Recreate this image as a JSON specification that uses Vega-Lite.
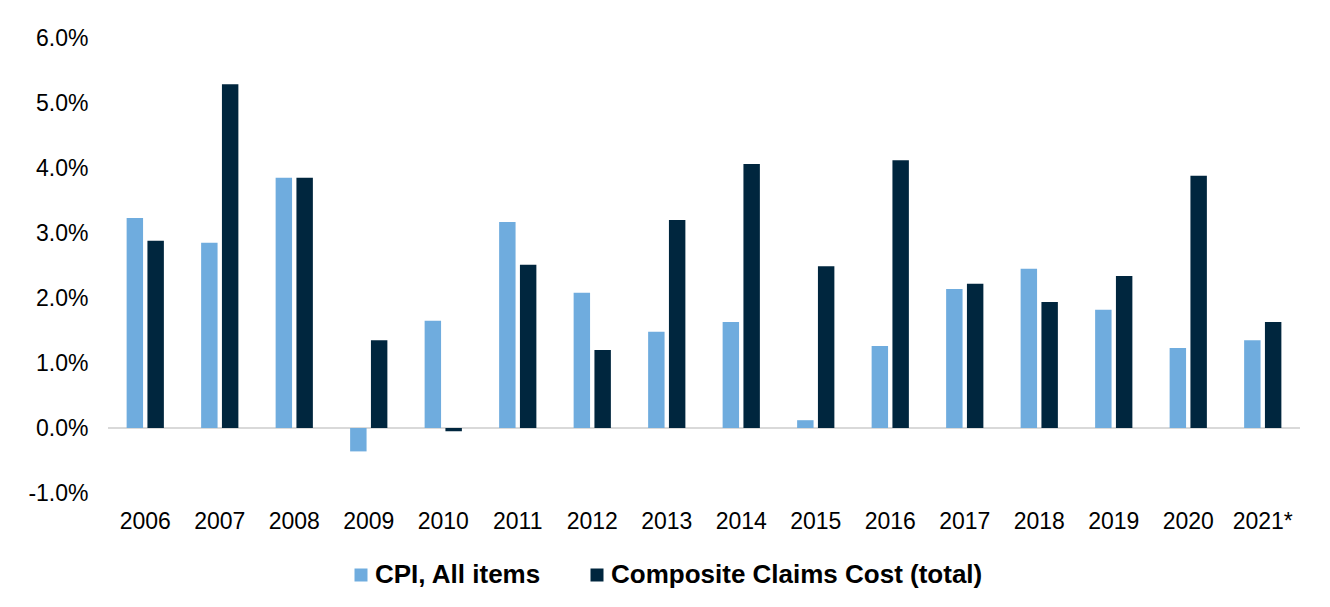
{
  "$schema": "https://vega.github.io/schema/vega-lite/v6.json",
  "autosize": "none",
  "width": 1192,
  "height": 455,
  "padding": {"left": 108, "top": 38, "right": 30, "bottom": 114},
  "background": "white",
  "config": {"view": {"stroke": null}, "font": "Liberation Sans"},
  "data": {"values": [
    {"year": "2006", "series": "CPI, All items", "v": 3.23},
    {"year": "2006", "series": "Composite Claims Cost (total)", "v": 2.88},
    {"year": "2007", "series": "CPI, All items", "v": 2.85},
    {"year": "2007", "series": "Composite Claims Cost (total)", "v": 5.29},
    {"year": "2008", "series": "CPI, All items", "v": 3.85},
    {"year": "2008", "series": "Composite Claims Cost (total)", "v": 3.85},
    {"year": "2009", "series": "CPI, All items", "v": -0.36},
    {"year": "2009", "series": "Composite Claims Cost (total)", "v": 1.35},
    {"year": "2010", "series": "CPI, All items", "v": 1.65},
    {"year": "2010", "series": "Composite Claims Cost (total)", "v": -0.05},
    {"year": "2011", "series": "CPI, All items", "v": 3.17},
    {"year": "2011", "series": "Composite Claims Cost (total)", "v": 2.51},
    {"year": "2012", "series": "CPI, All items", "v": 2.08},
    {"year": "2012", "series": "Composite Claims Cost (total)", "v": 1.2},
    {"year": "2013", "series": "CPI, All items", "v": 1.48},
    {"year": "2013", "series": "Composite Claims Cost (total)", "v": 3.2},
    {"year": "2014", "series": "CPI, All items", "v": 1.63},
    {"year": "2014", "series": "Composite Claims Cost (total)", "v": 4.06},
    {"year": "2015", "series": "CPI, All items", "v": 0.12},
    {"year": "2015", "series": "Composite Claims Cost (total)", "v": 2.49},
    {"year": "2016", "series": "CPI, All items", "v": 1.26},
    {"year": "2016", "series": "Composite Claims Cost (total)", "v": 4.12},
    {"year": "2017", "series": "CPI, All items", "v": 2.14},
    {"year": "2017", "series": "Composite Claims Cost (total)", "v": 2.22},
    {"year": "2018", "series": "CPI, All items", "v": 2.45},
    {"year": "2018", "series": "Composite Claims Cost (total)", "v": 1.94},
    {"year": "2019", "series": "CPI, All items", "v": 1.82},
    {"year": "2019", "series": "Composite Claims Cost (total)", "v": 2.34},
    {"year": "2020", "series": "CPI, All items", "v": 1.23},
    {"year": "2020", "series": "Composite Claims Cost (total)", "v": 3.88},
    {"year": "2021*", "series": "CPI, All items", "v": 1.35},
    {"year": "2021*", "series": "Composite Claims Cost (total)", "v": 1.63}
  ]},
  "encoding": {
    "y": {
      "type": "quantitative",
      "scale": {"domain": [-1, 6], "nice": false, "zero": false},
      "axis": {
        "title": null,
        "values": [-1, 0, 1, 2, 3, 4, 5, 6],
        "labelExpr": "(datum.value < 0 ? '-' : '') + format(abs(datum.value), '.1f') + '%'",
        "domain": false,
        "ticks": false,
        "grid": false,
        "labelFont": "Liberation Sans",
        "labelFontSize": 23,
        "labelColor": "#000000",
        "labelPadding": 20
      }
    }
  },
  "layer": [
    {
      "mark": {"type": "rule", "color": "#d9d9d9", "strokeWidth": 2},
      "encoding": {"y": {"datum": 0}}
    },
    {
      "mark": {"type": "bar"},
      "encoding": {
        "x": {
          "field": "year",
          "type": "nominal",
          "sort": null,
          "scale": {"paddingInner": 0.5, "paddingOuter": 0.25},
          "axis": {
            "title": null,
            "labelAngle": 0,
            "domain": false,
            "ticks": false,
            "labelFont": "Liberation Sans",
            "labelFontSize": 23,
            "labelColor": "#000000",
            "labelPadding": 17
          }
        },
        "xOffset": {
          "field": "series",
          "type": "nominal",
          "sort": ["CPI, All items", "Composite Claims Cost (total)"],
          "scale": {"paddingInner": 0.21}
        },
        "y": {"field": "v", "type": "quantitative"},
        "color": {
          "field": "series",
          "type": "nominal",
          "sort": ["CPI, All items", "Composite Claims Cost (total)"],
          "scale": {"domain": ["CPI, All items", "Composite Claims Cost (total)"], "range": ["#6FACDE", "#00263E"]},
          "legend": {
            "title": null,
            "orient": "none",
            "direction": "horizontal",
            "legendX": 240,
            "legendY": 524,
            "symbolType": "square",
            "symbolSize": 169,
            "symbolStrokeWidth": 0,
            "labelFont": "Liberation Sans",
            "labelFontWeight": "bold",
            "labelFontSize": 26,
            "labelColor": "#000000",
            "labelOffset": 1,
            "columnPadding": 42,
            "labelLimit": 600
          }
        }
      }
    }
  ]
}
